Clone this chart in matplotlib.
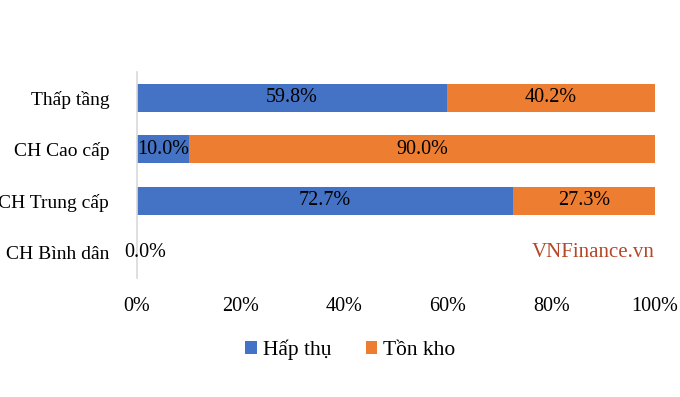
import matplotlib.pyplot as plt

plt.rcParams['font.family'] = ['Liberation Serif', 'DejaVu Serif']

categories = ['Thấp tầng', 'CH Cao cấp', 'CH Trung cấp', 'CH Bình dân']
hap_thu = [59.8, 10.0, 72.7, 0.0]
ton_kho = [40.2, 90.0, 27.3, 0.0]
xticks = [0, 20, 40, 60, 80, 100]

fig = plt.figure(figsize=(6.8, 3.97), dpi=100)
ax = fig.add_axes([0.2015, 0.2997, 0.7615, 0.5189])

y = list(range(len(categories)))
b1 = ax.barh(y, hap_thu, height=0.55, color='#4472C4', label='Hấp thụ')
b2 = ax.barh(y, ton_kho, left=hap_thu, height=0.55, color='#ED7D31', label='Tồn kho')

ax.bar_label(b1, labels=[f'{v:.1f}%' if v > 0 else '' for v in hap_thu],
             label_type='center', fontsize=14.5)
ax.bar_label(b2, labels=[f'{v:.1f}%' if v > 0 else '' for v in ton_kho],
             label_type='center', fontsize=14.5)
# zero-width bar: label sits just right of the axis
for i, v in enumerate(hap_thu):
    if v == 0:
        ax.annotate(f'{v:.1f}%', (v, i), xytext=(6, 0), textcoords='offset points',
                    ha='center', va='center', fontsize=14.5)

ax.set_ylim(3.5, -0.5)
ax.set_xlim(0, 100)
ax.set_yticks(y)
ax.set_yticklabels(categories, fontsize=14)
ax.set_xticks(xticks)
ax.set_xticklabels([f'{t}%' for t in xticks], fontsize=14.5)
ax.tick_params(length=0, pad=14)
ax.tick_params(axis='y', pad=20)
for s in ['top', 'right', 'bottom']:
    ax.spines[s].set_visible(False)
ax.spines['left'].set_color('#D9D9D9')
ax.spines['left'].set_linewidth(1.2)

ax.text(100, 3, 'VNFinance.vn', color='#B5482A', fontsize=15, ha='right', va='center')

fig.legend(loc='center', bbox_to_anchor=(0.515, 0.118), ncol=2, frameon=False,
           fontsize=15.5, handlelength=0.55, handleheight=0.55, handletextpad=0.25,
           columnspacing=1.6)

fig.savefig('out.png', dpi=100)
